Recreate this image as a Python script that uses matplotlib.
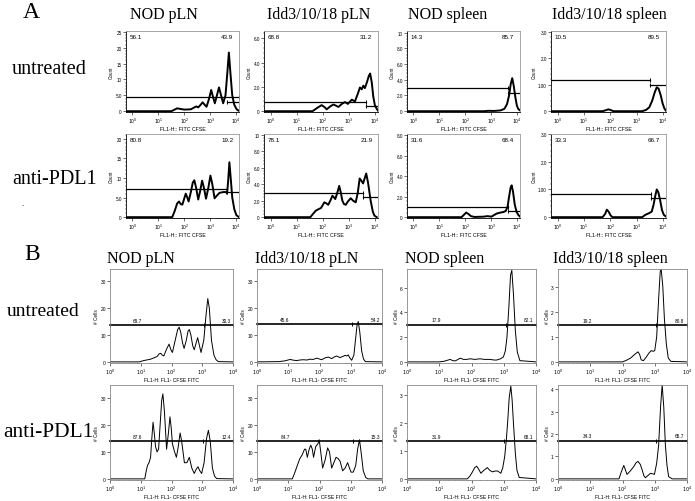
import numpy as np
import matplotlib.pyplot as plt
from matplotlib.ticker import FixedLocator, LogLocator, NullFormatter, AutoMinorLocator

W, H = 695, 502
SERIF = 'Liberation Serif'
SANS = 'Liberation Sans'

col_titles = ['NOD pLN', 'Idd3/10/18 pLN', 'NOD spleen', 'Idd3/10/18 spleen']
row_labels = ['untreated', 'anti-PDL1']

# ---- panel A curves: (log10 FITC CFSE, count) ----
a_nod_pln_unt = [(-0.25, 0), (1.5, 0), (1.62, 0.5), (1.72, 0.9), (1.85, 0.7), (2.0, 0.5), (2.25, 0.6), (2.38, 1.2),
                 (2.46, 1.5), (2.53, 1.2), (2.62, 2.0), (2.7, 2.8), (2.78, 2.0), (2.85, 1.4), (2.95, 4.0), (3.03, 6.7),
                 (3.1, 4.5), (3.17, 2.5), (3.25, 5.0), (3.33, 7.5), (3.41, 5.0), (3.49, 2.5), (3.58, 5.0), (3.65, 12.0),
                 (3.71, 18.5), (3.77, 12.0), (3.84, 5.0), (3.92, 2.0), (4.01, 0.6), (4.1, 0.1)]
a_idd_pln_unt = [(-0.25, 0), (1.6, 0), (1.8, 0.3), (1.95, 0.5), (2.08, 0.3), (2.14, 0.15), (2.28, 0.4), (2.4, 0.55),
                 (2.5, 0.45), (2.59, 0.35), (2.72, 0.6), (2.84, 0.75), (2.95, 0.6), (3.1, 0.95), (3.22, 0.8), (3.34, 1.5),
                 (3.41, 1.95), (3.48, 1.8), (3.54, 2.1), (3.6, 1.9), (3.68, 2.4), (3.75, 2.9), (3.8, 3.1), (3.86, 2.4),
                 (3.92, 1.2), (3.98, 0.5), (4.05, 0.2), (4.1, 0.05)]
a_nod_spl_unt = [(-0.25, 0), (2.7, 0), (2.9, 0.05), (3.1, 0.03), (3.35, 0.1), (3.5, 0.3), (3.6, 0.9), (3.68, 2.0),
                 (3.74, 3.4), (3.8, 4.2), (3.86, 3.2), (3.92, 1.8), (3.98, 0.7), (4.04, 0.25), (4.1, 0.1)]
a_idd_spl_unt = [(-0.25, 0), (1.7, 0), (1.8, 0.03), (1.92, 0.07), (2.02, 0.04), (2.11, 0), (3.2, 0), (3.35, 0.05),
                 (3.47, 0.15), (3.58, 0.4), (3.67, 0.7), (3.75, 0.9), (3.82, 0.85), (3.9, 0.6), (3.97, 0.3),
                 (4.04, 0.1), (4.1, 0.02)]
a_nod_pln_pdl = [(-0.25, 0), (1.53, 0), (1.62, 1.5), (1.72, 3.5), (1.79, 4.0), (1.86, 3.3), (1.92, 3.2), (1.98, 4.5),
                 (2.05, 6.0), (2.11, 5.0), (2.16, 4.0), (2.25, 6.5), (2.32, 8.8), (2.38, 9.4), (2.45, 7.5), (2.53, 4.5),
                 (2.6, 6.5), (2.68, 9.3), (2.75, 7.5), (2.83, 4.7), (2.92, 7.5), (3.0, 10.6), (3.07, 8.5), (3.16, 4.8),
                 (3.25, 5.5), (3.35, 6.2), (3.5, 6.4), (3.6, 6.4), (3.64, 6.0), (3.68, 9.0), (3.73, 14.0), (3.78, 10.0),
                 (3.84, 5.0), (3.92, 2.0), (4.0, 0.5), (4.1, 0)]
a_idd_pln_pdl = [(-0.25, 0), (1.52, 0), (1.62, 0.4), (1.73, 0.8), (1.85, 1.0), (1.92, 1.1), (1.98, 1.4), (2.05, 1.8),
                 (2.12, 1.7), (2.2, 1.5), (2.28, 2.0), (2.36, 2.6), (2.42, 2.4), (2.47, 2.2), (2.55, 3.0), (2.62, 3.8),
                 (2.68, 3.0), (2.74, 2.0), (2.8, 1.6), (2.87, 1.5), (2.95, 1.9), (3.06, 2.3), (3.15, 2.0), (3.25, 1.8),
                 (3.33, 3.0), (3.4, 4.7), (3.47, 4.4), (3.53, 4.1), (3.6, 4.8), (3.65, 5.3), (3.72, 4.2), (3.82, 2.0),
                 (3.9, 0.7), (3.96, 0.2), (4.05, 0)]
a_nod_spl_pdl = [(-0.25, 0), (1.85, 0), (1.95, 0.25), (2.03, 0.45), (2.12, 0.3), (2.21, 0.1), (2.35, 0.02), (2.7, 0.05),
                 (2.85, 0.1), (3.0, 0.05), (3.1, 0.2), (3.2, 0.35), (3.35, 0.45), (3.46, 0.5), (3.55, 0.6), (3.62, 1.0),
                 (3.68, 2.0), (3.74, 2.9), (3.78, 3.1), (3.83, 2.5), (3.9, 1.2), (3.97, 0.5), (4.04, 0.2), (4.1, 0.05)]
a_idd_spl_pdl = [(-0.25, 0), (1.7, 0), (1.8, 0.12), (1.86, 0.27), (1.93, 0.2), (2.0, 0.07), (2.07, 0), (3.2, 0),
                 (3.31, 0.08), (3.45, 0.14), (3.56, 0.2), (3.63, 0.45), (3.69, 0.75), (3.75, 1.0), (3.81, 0.9),
                 (3.88, 0.6), (3.95, 0.25), (4.02, 0.08), (4.1, 0.02)]

# ---- panel B curves: (log10 CFSE FITC, # cells) ----
b_nod_pln_unt = [(0, 0), (0.95, 0), (1.1, 0.5), (1.32, 1.0), (1.45, 1.6), (1.53, 2.0), (1.6, 3.0), (1.65, 3.2), (1.7, 2.5),
                 (1.75, 2.2), (1.83, 4.5), (1.92, 6.6), (1.98, 4.5), (2.03, 3.5), (2.12, 8.0), (2.2, 12.0), (2.25, 12.9),
                 (2.3, 11.0), (2.36, 7.0), (2.41, 5.0), (2.48, 8.0), (2.54, 11.5), (2.58, 12.0), (2.63, 10.0), (2.69, 6.0),
                 (2.74, 4.5), (2.8, 7.0), (2.85, 9.0), (2.9, 6.5), (2.96, 3.5), (3.05, 8.0), (3.12, 17.0), (3.18, 23.5),
                 (3.23, 20.0), (3.3, 8.0), (3.38, 2.5), (3.45, 0.8), (3.52, 0.1), (4, 0)]
b_idd_pln_unt = [(0, 0), (0.7, 0.1), (0.9, 0.4), (1.06, 0.9), (1.18, 0.6), (1.27, 0.5), (1.38, 0.7), (1.48, 0.8), (1.6, 0.7),
                 (1.7, 1.0), (1.8, 0.9), (1.91, 1.4), (1.99, 1.1), (2.07, 0.8), (2.18, 1.5), (2.28, 1.8), (2.34, 1.5),
                 (2.39, 1.2), (2.47, 1.8), (2.55, 2.2), (2.6, 1.9), (2.66, 1.6), (2.74, 2.0), (2.82, 2.4), (2.87, 2.2),
                 (2.92, 2.6), (2.97, 1.5), (3.03, 0.6), (3.1, 2.5), (3.15, 8.0), (3.2, 13.5), (3.24, 15.0), (3.29, 11.0),
                 (3.35, 4.0), (3.41, 1.0), (3.47, 0.1), (4, 0)]
b_nod_spl_unt = [(0, 0), (1.0, 0), (1.15, 0.05), (1.34, 0.2), (1.42, 0.1), (1.5, 0.08), (1.58, 0.2), (1.65, 0.3), (1.75, 0.2),
                 (1.85, 0.2), (1.96, 0.25), (2.1, 0.2), (2.27, 0.25), (2.4, 0.2), (2.58, 0.2), (2.7, 0.15), (2.78, 0.15),
                 (2.9, 0.25), (2.99, 0.4), (3.05, 0.9), (3.1, 2.0), (3.16, 4.5), (3.21, 7.0), (3.25, 7.4), (3.3, 5.5),
                 (3.36, 2.5), (3.42, 0.8), (3.5, 0.1), (4, 0)]
b_idd_spl_unt = [(0, 0), (2.0, 0), (2.1, 0.05), (2.25, 0.15), (2.38, 0.3), (2.48, 0.4), (2.53, 0.3), (2.58, 0.08), (2.65, 0.05),
                 (2.74, 0.2), (2.82, 0.35), (2.89, 0.45), (2.95, 0.42), (3.0, 0.45), (3.06, 1.0), (3.12, 2.5), (3.17, 3.6),
                 (3.2, 3.7), (3.25, 3.0), (3.3, 1.7), (3.36, 0.7), (3.42, 0.15), (3.5, 0.02), (4, 0)]
b_nod_pln_pdl = [(0, 0), (1.13, 0), (1.18, 3.0), (1.22, 5.0), (1.27, 6.0), (1.32, 8.0), (1.36, 15.0), (1.4, 21.0), (1.44, 17.0),
                 (1.48, 12.0), (1.53, 10.0), (1.58, 11.0), (1.63, 20.0), (1.68, 29.0), (1.72, 31.5), (1.77, 25.0),
                 (1.84, 11.0), (1.9, 17.0), (1.95, 23.0), (1.99, 19.0), (2.03, 13.0), (2.1, 10.0), (2.16, 8.0), (2.22, 12.0),
                 (2.28, 17.0), (2.33, 14.0), (2.42, 6.0), (2.5, 6.0), (2.58, 8.0), (2.66, 4.0), (2.74, 2.0), (2.8, 3.5),
                 (2.86, 4.5), (2.92, 3.0), (2.98, 2.0), (3.06, 6.0), (3.14, 15.0), (3.2, 18.0), (3.26, 14.0), (3.33, 4.0),
                 (3.4, 1.0), (3.47, 0.1), (4, 0)]
b_idd_pln_pdl = [(0, 0), (1.13, 0), (1.2, 2.0), (1.29, 5.0), (1.37, 7.5), (1.45, 9.0), (1.52, 11.0), (1.56, 11.0), (1.61, 8.0),
                 (1.67, 11.0), (1.72, 12.5), (1.77, 11.0), (1.81, 8.0), (1.88, 12.0), (1.95, 13.0), (1.99, 14.5),
                 (2.04, 10.0), (2.1, 4.0), (2.18, 7.0), (2.26, 11.5), (2.32, 10.0), (2.39, 4.0), (2.46, 6.0), (2.53, 8.0),
                 (2.6, 7.5), (2.66, 6.5), (2.74, 3.0), (2.82, 4.0), (2.9, 6.0), (2.96, 4.0), (3.01, 2.5), (3.08, 2.5),
                 (3.16, 5.0), (3.22, 11.0), (3.28, 14.5), (3.33, 10.0), (3.4, 3.0), (3.48, 0.5), (3.55, 0), (4, 0)]
b_nod_spl_pdl = [(0, 0), (1.87, 0), (1.95, 0.1), (2.03, 0.25), (2.1, 0.4), (2.16, 0.45), (2.22, 0.35), (2.29, 0.2), (2.38, 0.3),
                 (2.49, 0.4), (2.57, 0.3), (2.65, 0.25), (2.74, 0.28), (2.81, 0.28), (2.91, 0.2), (2.97, 0.4), (3.03, 0.8),
                 (3.08, 1.4), (3.12, 2.0), (3.17, 2.9), (3.22, 3.3), (3.26, 2.8), (3.3, 2.0), (3.36, 0.9), (3.41, 0.3),
                 (3.48, 0.05), (4, 0)]
b_idd_spl_pdl = [(0, 0), (1.89, 0), (1.96, 0.3), (2.04, 0.6), (2.09, 0.4), (2.14, 0.2), (2.24, 0.35), (2.35, 0.55), (2.42, 0.72),
                 (2.48, 0.78), (2.55, 0.65), (2.61, 0.4), (2.66, 0.15), (2.71, 0.05), (2.79, 0.15), (2.87, 0.25), (2.95, 0.22),
                 (2.99, 0.2), (3.06, 0.7), (3.12, 1.5), (3.18, 3.2), (3.23, 4.2), (3.28, 3.2), (3.33, 1.5), (3.38, 0.6),
                 (3.43, 0.1), (3.54, 0), (4, 0)]

# gate percentages (left, right)
a_pct = [[(56.1, 43.9), (68.8, 31.2), (14.3, 85.7), (10.5, 89.5)],
         [(80.8, 19.2), (78.1, 21.9), (31.6, 68.4), (33.3, 66.7)]]
b_pct = [[(69.7, 30.3), (45.6, 54.2), (17.9, 82.1), (19.2, 80.8)],
         [(87.6, 12.4), (84.7, 15.3), (31.9, 68.1), (34.3, 65.7)]]

# A gates: (left level, left end, right level, right start)
a_gates = [[(4.4, 4.1, 2.9, 3.65), (0.75, 3.64, 0.45, 3.64), (2.9, 3.62, 2.3, 3.62), (1.17, 3.5, 0.99, 3.5)],
           [(7.3, 3.62, 6.3, 3.62), (2.9, 3.54, 2.4, 3.54), (0.96, 3.65, 0.6, 3.65), (0.83, 3.54, 0.70, 3.54)]]
# B gates: (level, divider)
b_gates = [[(13.7, 3.05), (14.0, 3.03), (3.0, 3.06), (1.47, 3.05)],
           [(14.0, 3.02), (14.0, 3.06), (1.33, 3.0), (1.7, 3.05)]]

a_curves = [[a_nod_pln_unt, a_idd_pln_unt, a_nod_spl_unt, a_idd_spl_unt],
            [a_nod_pln_pdl, a_idd_pln_pdl, a_nod_spl_pdl, a_idd_spl_pdl]]
b_curves = [[b_nod_pln_unt, b_idd_pln_unt, b_nod_spl_unt, b_idd_spl_unt],
            [b_nod_pln_pdl, b_idd_pln_pdl, b_nod_spl_pdl, b_idd_spl_pdl]]

a_ytop = [[25.3, 6.6, 10.2, 3.02], [21.2, 10.1, 8.1, 3.0]]
a_yticks = [[[0, 5, 10, 15, 20, 25], [0, 2, 4, 6], [0, 2, 4, 6, 8, 10], [0, 1, 2, 3]],
            [[0, 5, 10, 15, 20], [0, 2, 4, 6, 8, 10], [0, 2, 4, 6, 8], [0, 1, 2, 3]]]
a_ylabels = [[['0', '5.0', '10', '15', '20', '25'], ['0', '2.0', '4.0', '6.0'],
              ['0', '2.0', '4.0', '6.0', '8.0', '10'], ['0', '1.00', '2.0', '3.0']],
             [['0', '5.0', '10', '15', '20'], ['0', '2.0', '4.0', '6.0', '8.0', '10'],
              ['0', '2.0', '4.0', '6.0', '8.0'], ['0', '1.00', '2.0', '3.0']]]
b_ytop = [[34.5, 34.5, 7.5, 3.7], [34.8, 34.8, 3.34, 4.19]]
b_yticks = [[[0, 10, 20, 30], [0, 10, 20, 30], [0, 2, 4, 6], [0, 1, 2, 3]],
            [[0, 10, 20, 30], [0, 10, 20, 30], [0, 1, 2, 3], [0, 1, 2, 3, 4]]]

# pixel boxes of the panels
a_cols = [(126, 239), (264, 378), (407, 520), (551, 666)]
a_rows = [(32, 113), (135, 219)]
b_cols = [(110, 233), (257, 382), (407, 536), (558, 687)]
b_rows = [(270, 364), (386, 481)]

fig = plt.figure(figsize=(W / 100, H / 100), dpi=100)


def add_ax(xs, ys):
    return fig.add_axes([xs[0] / W, 1 - ys[1] / H, (xs[1] - xs[0]) / W, (ys[1] - ys[0]) / H])


def style_log_x(ax, lo, hi, fs):
    ax.set_xscale('log')
    ax.set_xlim(10 ** lo, 10 ** hi)
    ax.xaxis.set_major_locator(FixedLocator([1, 10, 100, 1000, 10000]))
    ax.xaxis.set_major_formatter(plt.FuncFormatter(lambda v, p: r'$10^{%d}$' % round(np.log10(v))))
    ax.xaxis.set_minor_locator(LogLocator(base=10, subs=np.arange(2, 10), numticks=20))
    ax.xaxis.set_minor_formatter(NullFormatter())
    ax.tick_params(axis='both', which='major', labelsize=fs, length=2, width=0.4, pad=1, direction='out')
    ax.tick_params(axis='both', which='minor', length=1, width=0.3, direction='out')
    for lab in ax.get_xticklabels() + ax.get_yticklabels():
        lab.set_fontfamily(SANS)


# ---------------- panel A ----------------
for r in range(2):
    for c in range(4):
        ax = add_ax(a_cols[c], a_rows[r])
        pts = np.array(a_curves[r][c])
        ax.plot(10 ** pts[:, 0], pts[:, 1], color='black', lw=1.4)
        top = a_ytop[r][c]
        ax.set_ylim(-0.01 * top, top)
        ax.set_yticks(a_yticks[r][c])
        ax.set_yticklabels(a_ylabels[r][c])
        ax.yaxis.set_minor_locator(AutoMinorLocator(5))
        style_log_x(ax, -0.25, 4.1, 3.3)
        for s in ['top', 'right']:
            ax.spines[s].set_color('#999999')
        for s in ax.spines.values():
            s.set_linewidth(0.6)
        lv, le, rv, rs = a_gates[r][c]
        ax.plot([10 ** -0.25, 10 ** le], [lv, lv], color='black', lw=0.9)
        ax.plot([10 ** rs, 10 ** 4.1], [rv, rv], color='black', lw=0.9)
        ax.plot([10 ** le, 10 ** rs], [lv, rv], ls='none', marker='|', ms=3, mew=0.7, color='black')
        pl, pr = a_pct[r][c]
        ax.text(0.03, 0.93, f'{pl}', transform=ax.transAxes, fontsize=4.5, family=SANS, va='center', ha='left')
        ax.text(0.95, 0.93, f'{pr}', transform=ax.transAxes, fontsize=4.5, family=SANS, va='center', ha='right')
        ax.set_xlabel('FL1-H:: FITC CFSE', fontsize=3.8, family=SANS, labelpad=0.5)
        ax.set_ylabel('Count', fontsize=3.3, family=SANS, labelpad=1)

# ---------------- panel B ----------------
for r in range(2):
    for c in range(4):
        ax = add_ax(b_cols[c], b_rows[r])
        pts = np.array(b_curves[r][c])
        ax.plot(10 ** pts[:, 0], pts[:, 1], color='black', lw=0.7)
        top = b_ytop[r][c]
        ax.set_ylim(-0.012 * top, top)
        ax.set_yticks(b_yticks[r][c])
        style_log_x(ax, 0, 4, 3.5)
        for s in ax.spines.values():
            s.set_color('#888888')
            s.set_linewidth(0.6)
        lv, dv = b_gates[r][c]
        ax.plot([1, 1e4], [lv, lv], color='black', lw=1.2, clip_on=False)
        ax.plot([1, 10 ** dv, 1e4], [lv, lv, lv], ls='none', marker='|', ms=3.5, mew=0.7,
                color='black', clip_on=False)
        pl, pr = b_pct[r][c]
        ax.text(10 ** 0.9, lv + 0.025 * top, f'{pl}', fontsize=3.4, family=SANS, va='bottom', ha='center')
        ax.text(10 ** 3.78, lv + 0.025 * top, f'{pr}', fontsize=3.4, family=SANS, va='bottom', ha='center')
        ax.set_xlabel('FL1-H: FL1- CFSE FITC', fontsize=3.7, family=SANS, labelpad=0.5)
        ax.set_ylabel('# Cells', fontsize=3.4, family=SANS, labelpad=1)

# ---------------- titles and row labels ----------------
a_title_x = [130, 267, 408, 552]
b_title_x = [107, 255, 405, 553]
for c in range(4):
    fig.text(a_title_x[c] / W, 1 - 15 / H, col_titles[c], family=SERIF, fontsize=11.5, ha='left', va='center')
    fig.text(b_title_x[c] / W, 1 - 259 / H, col_titles[c], family=SERIF, fontsize=11.5, ha='left', va='center')

fig.text(23 / W, 1 - 13 / H, 'A', family=SERIF, fontsize=17, ha='left', va='center')
fig.text(24 / W, 1 - 254 / H, 'B', family=SERIF, fontsize=17, ha='left', va='center')
fig.text(12 / W, 1 - 70 / H, row_labels[0], family=SERIF, fontsize=14.5, ha='left', va='center')
fig.text(12 / W, 1 - 180 / H, row_labels[1], family=SERIF, fontsize=14.5, ha='left', va='center')
fig.text(7 / W, 1 - 311 / H, row_labels[0], family=SERIF, fontsize=14, ha='left', va='center')
fig.text(3 / W, 1 - 433 / H, row_labels[1], family=SERIF, fontsize=15.5, ha='left', va='center')
fig.text(21 / W, 1 - 204 / H, '.', family=SERIF, fontsize=6, ha='left', va='center')

fig.savefig('out.png', dpi=100, facecolor='white')
